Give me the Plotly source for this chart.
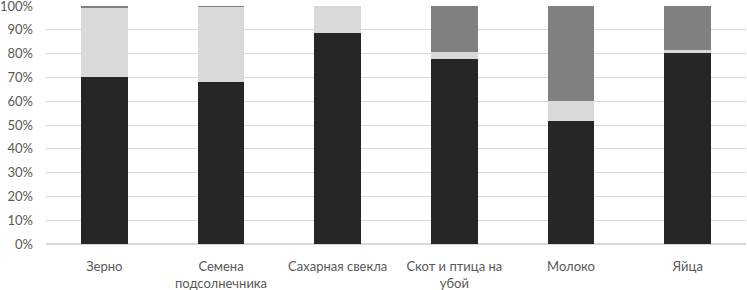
import plotly.graph_objects as go

categories = ["Зерно", "Семена<br>подсолнечника", "Сахарная свекла", "Скот и птица на<br>убой", "Молоко", "Яйца"]
series_black = [70.3, 67.9, 88.5, 77.9, 51.8, 80.1]
series_light = [29.0, 31.7, 11.5, 2.9, 8.3, 1.4]
series_dark = [0.7, 0.4, 0.0, 19.2, 39.9, 18.5]
y_ticks = [0, 10, 20, 30, 40, 50, 60, 70, 80, 90, 100]
y_tick_labels = [f"{v}%" for v in y_ticks]

fig = go.Figure()
for vals, col in [(series_black, "#262626"), (series_light, "#d9d9d9"), (series_dark, "#808080")]:
    fig.add_trace(go.Bar(x=categories, y=vals, marker=dict(color=col, line=dict(width=0)), showlegend=False))

fig.update_layout(
    barmode="stack",
    bargap=0.6,
    width=747, height=290,
    margin=dict(l=46, r=1, t=6, b=46),
    paper_bgcolor="white", plot_bgcolor="white",
    font=dict(family="Lato", size=13, color="#595959"),
)
fig.update_yaxes(range=[0, 100], tickmode="array", tickvals=y_ticks, ticktext=y_tick_labels,
                 showgrid=True, gridcolor="#d9d9d9", gridwidth=1, zeroline=True, zerolinecolor="#d9d9d9",
                 ticks="", ticklabelstandoff=12, ticklabeloverflow="allow",
                 automargin=False)
fig.update_xaxes(showgrid=False, ticks="", ticklabelstandoff=13, automargin=False, tickangle=0,
                 ticklabeloverflow="allow")

fig.write_html("out.html", config={"displayModeBar": False},
               post_script="document.body.style.margin='0';document.body.style.overflow='hidden';")
